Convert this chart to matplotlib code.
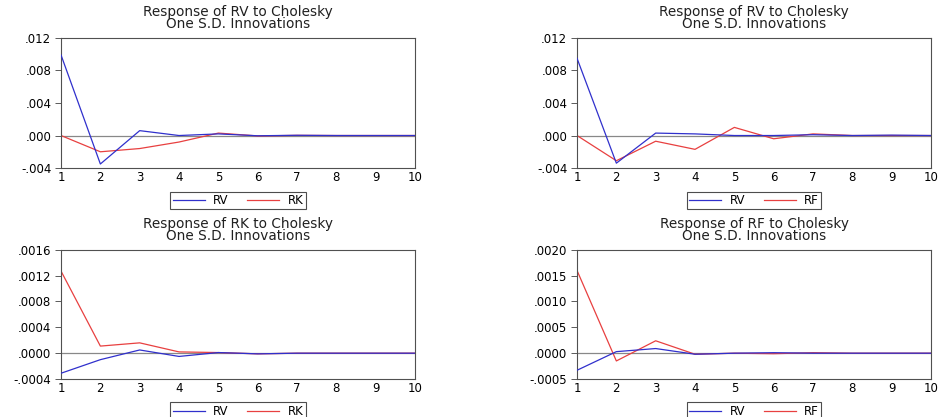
import numpy as np
import matplotlib.pyplot as plt
from matplotlib.ticker import FuncFormatter

plt.rcParams['font.family'] = ['DejaVu Sans']

periods = [1, 2, 3, 4, 5, 6, 7, 8, 9, 10]

# Response of RV (left top)
rv_rv_a = [0.0099, -0.0035, 0.0006, 0.0000, 0.0002, -0.00003, 0.00003, 0.0, 0.0, 0.0]
rv_rk = [0.0, -0.0020, -0.0016, -0.0008, 0.0003, -0.00005, 0.00002, 0.0, 0.0, 0.0]
# Response of RV (right top)
rv_rv_b = [0.0095, -0.0034, 0.0003, 0.0002, 0.0000, 0.0000, 0.0001, 0.0, 0.00005, 0.0]
rv_rf = [0.0, -0.0031, -0.0007, -0.0017, 0.0010, -0.0004, 0.0002, 0.0, 0.0, 0.0]
# Response of RK
rk_rv = [-0.00031, -0.00010, 0.00005, -0.00005, 0.00001, -0.00001, 0.0, 0.0, 0.0, 0.0]
rk_rk = [0.00127, 0.00011, 0.00016, 0.00002, 0.00001, -0.00001, 0.0, 0.0, 0.0, 0.0]
# Response of RF
rf_rv = [-0.00033, 0.00003, 0.00009, -0.00002, 0.0, 0.00001, 0.0, 0.0, 0.0, 0.0]
rf_rf = [0.0016, -0.00015, 0.00024, -0.00002, 0.0, -0.00001, 0.00001, 0.0, 0.0, 0.0]

panels = [
    ("Response of RV to Cholesky\nOne S.D. Innovations", rv_rv_a, rv_rk, "RK",
     [-0.004, 0.0, 0.004, 0.008, 0.012], 3),
    ("Response of RV to Cholesky\nOne S.D. Innovations", rv_rv_b, rv_rf, "RF",
     [-0.004, 0.0, 0.004, 0.008, 0.012], 3),
    ("Response of RK to Cholesky\nOne S.D. Innovations", rk_rv, rk_rk, "RK",
     [-0.0004, 0.0, 0.0004, 0.0008, 0.0012, 0.0016], 4),
    ("Response of RF to Cholesky\nOne S.D. Innovations", rf_rv, rf_rf, "RF",
     [-0.0005, 0.0, 0.0005, 0.0010, 0.0015, 0.0020], 4),
]

positions = [
    [0.065, 0.597, 0.377, 0.312],
    [0.6145, 0.597, 0.377, 0.312],
    [0.065, 0.091, 0.377, 0.310],
    [0.6145, 0.091, 0.377, 0.310],
]

blue = '#3030cc'
red = '#e84040'


def fmt(dec):
    def f(v, pos):
        s = ("%." + str(dec) + "f") % v
        if s.startswith("-0"):
            s = "-" + s[2:]
        elif s.startswith("0"):
            s = s[1:]
        return s
    return f


fig = plt.figure(figsize=(9.39, 4.17), dpi=100)

for (title, s1, s2, name2, yt, dec), pos in zip(panels, positions):
    ax = fig.add_axes(pos)
    ax.axhline(0, color='#888888', lw=0.9, zorder=1)
    l1, = ax.plot(periods, s1, color=blue, lw=0.9, label='RV', zorder=3)
    l2, = ax.plot(periods, s2, color=red, lw=0.9, label=name2, zorder=2)
    ax.set_xlim(1, 10)
    ax.set_ylim(yt[0], yt[-1])
    ax.set_xticks(periods)
    ax.set_yticks(yt)
    ax.yaxis.set_major_formatter(FuncFormatter(fmt(dec)))
    ax.tick_params(axis='both', labelsize=8.5, length=4, width=0.6, color='#404040', pad=3)
    ax.tick_params(axis='x', length=0, pad=2)
    for sp in ax.spines.values():
        sp.set_color('#505050')
        sp.set_linewidth(0.8)
    ax.set_title(title, fontsize=9.8, linespacing=0.8, pad=7, color='#202020')
    leg = ax.legend(handles=[l1, l2], loc='upper center', bbox_to_anchor=(0.5, -0.135),
                    ncol=2, fontsize=8.5, frameon=True, fancybox=False,
                    handlelength=2.7, columnspacing=1.6, borderpad=0.2,
                    handletextpad=0.7)
    leg.get_frame().set_edgecolor('#202020')
    leg.get_frame().set_linewidth(0.8)

plt.savefig('out.png', dpi=100)
